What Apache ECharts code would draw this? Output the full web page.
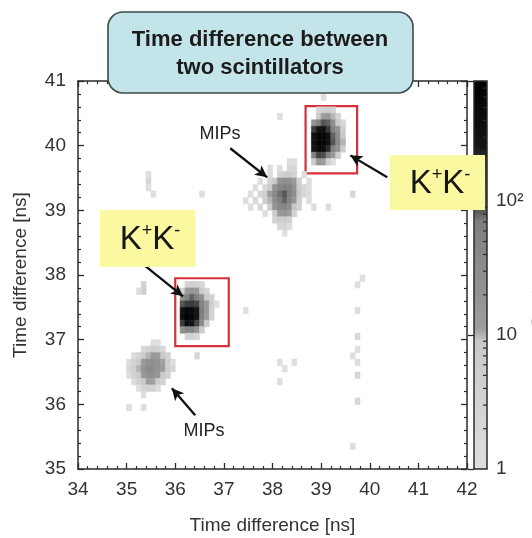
<!DOCTYPE html>
<html>
<head>
<meta charset="utf-8">
<script src="https://cdn.jsdelivr.net/npm/echarts@6/dist/echarts.min.js"></script>
<style>
  html, body { margin: 0; padding: 0; background: #ffffff; }
  #chart { width: 532px; height: 538px; }
</style>
</head>
<body>
<div id="chart"></div>
<script>
// 2D histogram of the time difference measured by two scintillator pairs (0.1 ns bins)
const FONT = "'Liberation Sans', Arial, Helvetica, sans-serif";
const BIN = 0.1;
const xRange = [34, 42];
const yRange = [35, 41];
const countRange = [1, 790];
const countLabels = { 1: '1', 10: '10', 100: '10\u00B2' };
const countMinorTicks = [2, 3, 4, 5, 6, 7, 8, 9, 20, 30, 40, 50, 60, 70, 80, 90, 200, 300, 400, 500, 600, 700];

// Each row: [lower y edge, lower x edge of first bin, counts of consecutive 0.1 ns bins]
const kkUpperRows = [
  [40.5, 38.9, 2, 4, 5, 3],
  [40.4, 38.9, 6, 12, 15, 10, 3],
  [40.3, 38.8, 20, 60, 90, 80, 30, 8, 2],
  [40.2, 38.8, 180, 300, 320, 200, 60, 20, 5],
  [40.1, 38.8, 300, 600, 520, 280, 80, 30, 8],
  [40.0, 38.8, 320, 700, 560, 300, 90, 35, 10],
  [39.9, 38.8, 250, 500, 420, 220, 60, 20, 5],
  [39.8, 38.8, 60, 140, 120, 60, 15, 5],
  [39.7, 38.8, 6, 15, 12, 5, 1]
];
const mipsUpperRows = [
  [39.7, 38.3, 1, 1],
  [39.6, 38.1, 1, 0, 2, 2],
  [39.5, 37.9, 1, 0, 3, 5, 6, 3, 0, 1],
  [39.4, 37.7, 1, 0, 3, 8, 18, 28, 25, 12, 4, 0, 1],
  [39.3, 37.6, 1, 0, 2, 6, 20, 45, 70, 55, 22, 7, 2],
  [39.2, 37.5, 1, 0, 2, 5, 12, 35, 75, 90, 65, 28, 8, 2, 1],
  [39.1, 37.4, 1, 0, 2, 0, 5, 10, 30, 65, 80, 55, 18, 5, 0, 1],
  [39.0, 37.5, 1, 0, 2, 0, 6, 18, 40, 45, 28, 9, 3],
  [38.9, 37.8, 1, 0, 7, 15, 18, 12, 4],
  [38.8, 38.0, 3, 6, 7, 4],
  [38.7, 38.1, 2, 3, 1],
  [38.6, 38.2, 1]
];
const kkLowerRows = [
  [37.8, 36.2, 3, 5, 4, 2],
  [37.7, 36.1, 4, 12, 18, 14, 6, 2],
  [37.6, 36.1, 25, 60, 80, 60, 25, 8, 3],
  [37.5, 36.1, 90, 180, 200, 140, 50, 15, 5, 1],
  [37.4, 36.1, 300, 550, 480, 260, 70, 15, 4],
  [37.3, 36.1, 350, 650, 520, 280, 60, 12, 3],
  [37.2, 36.1, 200, 380, 300, 150, 30, 6],
  [37.1, 36.1, 25, 50, 45, 20, 5],
  [37.0, 36.2, 3, 4, 2]
];
const mipsLowerRows = [
  [36.9, 35.5, 1, 1],
  [36.8, 35.3, 2, 3, 5, 4, 2],
  [36.7, 35.1, 1, 3, 6, 10, 14, 12, 7, 3],
  [36.6, 35.0, 1, 3, 7, 14, 26, 26, 20, 11, 5, 1],
  [36.5, 35.0, 2, 4, 10, 20, 34, 32, 22, 12, 5, 2],
  [36.4, 35.0, 1, 3, 7, 15, 24, 24, 16, 8, 3],
  [36.3, 35.1, 1, 4, 8, 12, 11, 6, 3],
  [36.2, 35.2, 1, 3, 4, 3, 1],
  [36.1, 35.3, 1],
  [35.9, 35.0, 1, 0, 0, 1]
];
// Isolated hits: [x, y, counts]
const strayHits = [
  [35.3, 37.7, 5], [35.3, 37.8, 3], [35.2, 37.7, 1],
  [35.4, 39.4, 2], [35.4, 39.3, 1], [35.5, 39.2, 1], [35.4, 39.5, 1],
  [36.5, 39.2, 1], [38.1, 40.4, 1], [39.0, 40.7, 1], [39.6, 39.2, 2],
  [38.8, 39.0, 1], [39.1, 39.0, 1], [38.7, 39.3, 1], [37.9, 39.6, 1],
  [39.8, 37.9, 1], [37.4, 37.4, 1], [36.4, 36.7, 2],
  [38.1, 36.6, 1], [38.4, 36.6, 1], [38.2, 36.5, 1], [38.1, 36.3, 1],
  [39.7, 37.8, 1], [39.7, 37.4, 1], [39.7, 37.0, 2], [39.7, 36.8, 1],
  [39.6, 36.7, 1], [39.7, 36.6, 1], [39.7, 36.4, 2], [39.7, 36.0, 2], [39.6, 35.3, 1]
];

// Selection boxes and arrows, in data coordinates (ns)
const kkBoxes = [
  [[38.68, 40.61], [39.74, 39.57]],
  [[36.00, 37.95], [37.10, 36.90]]
];
const arrows = [
  [[35.38, 38.14], [36.16, 37.67]],
  [[40.36, 39.51], [39.60, 39.85]],
  [[37.13, 39.96], [37.89, 39.51]],
  [[36.41, 35.83], [35.93, 36.25]]
];

function rowsToCells(rows) {
  const out = [];
  rows.forEach(function (r) {
    const y = r[0], x0 = r[1];
    for (let i = 2; i < r.length; i++) {
      const c = r[i];
      if (c > 0) out.push([+(x0 + (i - 2) * BIN).toFixed(2), y, c, Math.log10(c)]);
    }
  });
  return out;
}
const cells = []
  .concat(rowsToCells(kkUpperRows), rowsToCells(mipsUpperRows),
          rowsToCells(kkLowerRows), rowsToCells(mipsLowerRows))
  .concat(strayHits.map(function (h) { return [h[0], h[1], h[2], Math.log10(h[2])]; }));

// grey palette on log10(counts): light below 10, mid grey to ~80, dark to ~230, black above
const logMax = Math.log10(countRange[1]);
const greyAnchors = [[0, 222], [0.98, 200], [1.02, 158], [1.87, 126], [1.91, 88], [2.33, 55], [2.37, 22], [logMax, 0]];
function greyAt(v) {
  for (let i = 1; i < greyAnchors.length; i++) {
    const a = greyAnchors[i - 1], b = greyAnchors[i];
    if (v <= b[0]) {
      const t = (v - a[0]) / (b[0] - a[0]);
      const g = Math.round(a[1] + (b[1] - a[1]) * t);
      return 'rgb(' + g + ',' + g + ',' + g + ')';
    }
  }
  return 'rgb(0,0,0)';
}
const palette = [];
for (let k = 0; k <= 58; k++) palette.push(greyAt(logMax * k / 58));

const PLOT = { left: 78, top: 81, width: 389, height: 388 };
const CB = { left: 474, top: 81, width: 13, height: 388 };
const AXIS_COLOR = '#2b2b2b';
const LABEL_COLOR = '#333333';

const chart = echarts.init(document.getElementById('chart'), null, { renderer: 'canvas' });

function frameAxis(extra) {
  return Object.assign({
    type: 'value',
    axisLine: { show: true, onZero: false, lineStyle: { color: AXIS_COLOR, width: 1.5 } },
    axisTick: { show: true, inside: true, length: 6, lineStyle: { color: AXIS_COLOR, width: 1.3 } },
    minorTick: { show: true, splitNumber: 5, length: 3, lineStyle: { color: AXIS_COLOR, width: 1.2 } },
    splitLine: { show: false },
    axisLabel: { color: LABEL_COLOR, fontFamily: FONT, fontSize: 19 }
  }, extra);
}

const kkText = '{k|K}{s|+}{k|K}{s|-}';
const kkRich = {
  k: { fontSize: 33, fontFamily: FONT, fill: '#161616', lineHeight: 36 },
  s: { fontSize: 18, fontFamily: FONT, fill: '#161616', verticalAlign: 'top', lineHeight: 36 }
};

chart.setOption({
  animation: false,
  backgroundColor: '#ffffff',
  grid: [
    Object.assign({ outerBoundsMode: 'none', containLabel: false }, PLOT),
    Object.assign({ outerBoundsMode: 'none', containLabel: false }, CB)
  ],
  xAxis: [
    frameAxis({
      gridIndex: 0, position: 'bottom', min: xRange[0], max: xRange[1], interval: 1,
      name: 'Time difference [ns]', nameLocation: 'middle', nameGap: 47,
      nameTextStyle: { color: LABEL_COLOR, fontFamily: FONT, fontSize: 19 },
      axisLabel: { color: LABEL_COLOR, fontFamily: FONT, fontSize: 19, margin: 11 }
    }),
    frameAxis({
      gridIndex: 0, position: 'top', min: xRange[0], max: xRange[1], interval: 1,
      axisLabel: { show: false }
    }),
    { type: 'value', gridIndex: 1, min: 0, max: 1, show: false }
  ],
  yAxis: [
    frameAxis({
      gridIndex: 0, position: 'left', min: yRange[0], max: yRange[1], interval: 1,
      name: 'Time difference [ns]', nameLocation: 'middle', nameGap: 48, nameRotate: 90,
      nameTextStyle: { color: LABEL_COLOR, fontFamily: FONT, fontSize: 19 },
      axisLabel: { color: LABEL_COLOR, fontFamily: FONT, fontSize: 19, margin: 12 }
    }),
    frameAxis({
      gridIndex: 0, position: 'right', min: yRange[0], max: yRange[1], interval: 1,
      axisLabel: { show: false }
    }),
    {
      type: 'log', logBase: 10, gridIndex: 1, position: 'right', z: 6,
      min: countRange[0], max: countRange[1],
      axisLine: { show: false },
      axisTick: { show: true, inside: true, length: 6, lineStyle: { color: AXIS_COLOR, width: 1.3 } },
      splitLine: { show: false },
      axisLabel: {
        color: LABEL_COLOR, fontFamily: FONT, fontSize: 19, margin: 9,
        formatter: function (v) { return countLabels[Math.round(v)] || ''; }
      }
    }
  ],
  visualMap: {
    type: 'continuous', show: true, seriesIndex: 0, dimension: 3,
    min: 0, max: logMax, calculable: false, hoverLink: false, text: null,
    orient: 'vertical', left: CB.left, top: CB.top, padding: 0, z: 1,
    itemWidth: CB.width, itemHeight: CB.height,
    inRange: { color: palette },
    outOfRange: { color: palette[palette.length - 1] }
  },
  series: [
    {
      type: 'custom',
      name: 'counts',
      xAxisIndex: 0, yAxisIndex: 0,
      clip: true,
      encode: { x: 0, y: 1 },
      data: cells,
      renderItem: function (params, api) {
        const x = api.value(0), y = api.value(1);
        const a = api.coord([x, y + BIN]);
        const b = api.coord([x + BIN, y]);
        const c = api.visual('color');
        return {
          type: 'rect',
          shape: { x: a[0], y: a[1], width: b[0] - a[0], height: b[1] - a[1] },
          style: { fill: c, stroke: c, lineWidth: 0.6 }
        };
      },
      markArea: {
        silent: true,
        itemStyle: { color: 'rgba(0,0,0,0)', borderColor: '#d6303a', borderWidth: 2.2 },
        label: { show: false },
        data: kkBoxes.map(function (b) { return [{ coord: b[0] }, { coord: b[1] }]; })
      },
      markLine: {
        silent: true,
        symbol: ['none', 'arrow'],
        symbolSize: [9, 12],
        label: { show: false },
        lineStyle: { color: '#111111', width: 2.3, type: 'solid' },
        data: arrows.map(function (a) { return [{ coord: a[0] }, { coord: a[1] }]; })
      }
    },
    {
      type: 'custom',
      name: 'colour-scale ticks',
      xAxisIndex: 2, yAxisIndex: 2, z: 10, silent: true,
      data: countMinorTicks.map(function (v) { return [1, v]; }),
      renderItem: function (params, api) {
        const p = api.coord([api.value(0), api.value(1)]);
        return {
          type: 'line',
          shape: { x1: p[0] - 4, y1: p[1], x2: p[0], y2: p[1] },
          style: { stroke: AXIS_COLOR, lineWidth: 1.2 }
        };
      }
    }
  ],
  graphic: [
    // colour scale frame
    {
      type: 'rect', z: 20, silent: true,
      shape: { x: CB.left, y: CB.top, width: CB.width, height: CB.height },
      style: { fill: 'none', stroke: AXIS_COLOR, lineWidth: 1.5 }
    },
    // title box
    {
      type: 'rect', z: 30, silent: true,
      shape: { x: 108, y: 12, width: 305, height: 81, r: 15 },
      style: { fill: '#c3e4e8', stroke: '#3f4a4a', lineWidth: 1.6 }
    },
    {
      type: 'text', z: 31, silent: true, x: 260, y: 40,
      style: { text: 'Time difference between', align: 'center', verticalAlign: 'middle',
               fontFamily: FONT, fontSize: 22, fontWeight: 'bold', fill: '#1c1c1c' }
    },
    {
      type: 'text', z: 31, silent: true, x: 260, y: 68,
      style: { text: 'two scintillators', align: 'center', verticalAlign: 'middle',
               fontFamily: FONT, fontSize: 22, fontWeight: 'bold', fill: '#1c1c1c' }
    },
    // K+K- tags
    {
      type: 'rect', z: 30, silent: true,
      shape: { x: 100, y: 210, width: 95, height: 57 },
      style: { fill: '#fbf8a2' }
    },
    {
      type: 'text', z: 31, silent: true, x: 150, y: 240,
      style: { text: kkText, rich: kkRich, align: 'center', verticalAlign: 'middle' }
    },
    {
      type: 'rect', z: 30, silent: true,
      shape: { x: 390, y: 155, width: 95, height: 55 },
      style: { fill: '#fbf8a2' }
    },
    {
      type: 'text', z: 31, silent: true, x: 440, y: 184,
      style: { text: kkText, rich: kkRich, align: 'center', verticalAlign: 'middle' }
    },
    // MIPs tags
    {
      type: 'text', z: 31, silent: true, x: 220, y: 134,
      style: { text: 'MIPs', align: 'center', verticalAlign: 'middle',
               fontFamily: FONT, fontSize: 18, fill: '#222222' }
    },
    {
      type: 'text', z: 31, silent: true, x: 204, y: 431,
      style: { text: 'MIPs', align: 'center', verticalAlign: 'middle',
               fontFamily: FONT, fontSize: 18, fill: '#222222' }
    },
    // colour scale title, running off the right edge
    {
      type: 'text', z: 31, silent: true, x: 537, y: 305, rotation: Math.PI / 2,
      style: { text: 'Counts', align: 'center', verticalAlign: 'middle',
               fontFamily: FONT, fontSize: 14, fill: '#c4c4c4' }
    }
  ]
});
</script>
</body>
</html>
